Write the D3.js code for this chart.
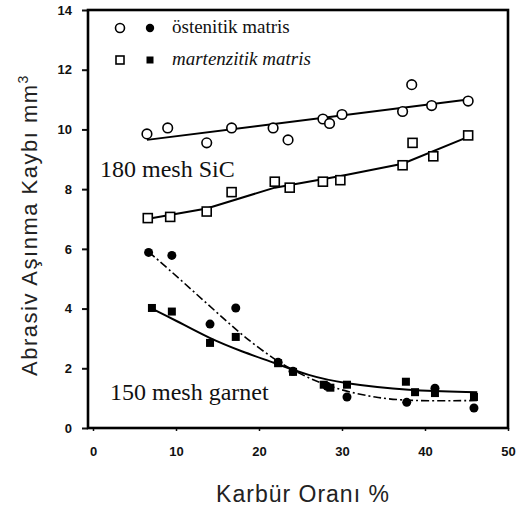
<!DOCTYPE html>
<html>
<head>
<meta charset="utf-8">
<script src="https://cdn.jsdelivr.net/npm/d3@7"></script>
<style>
  body { margin: 0; background: #fff; }
  svg { display: block; }
  .tick text { font-family: "Liberation Sans", Arial, sans-serif; font-weight: bold; font-size: 13px; fill: #111; }
  .serif { font-family: "Liberation Serif", "Times New Roman", serif; fill: #111; }
  .sans { font-family: "Liberation Sans", Arial, sans-serif; fill: #222; }
</style>
</head>
<body>
<svg id="chart" width="521" height="510"></svg>
<script>
// tick values
var xTicks = [0, 10, 20, 30, 40, 50];
var yTicks = [0, 2, 4, 6, 8, 10, 12, 14];

// 180 mesh SiC - ostenitik (open circles)
var sicAusX = [6.5, 9.0, 13.7, 16.7, 21.7, 23.5, 27.7, 28.5, 30.0, 37.3, 38.4, 40.8, 45.2];
var sicAusY = [9.85, 10.05, 9.55, 10.05, 10.05, 9.65, 10.35, 10.2, 10.5, 10.6, 11.5, 10.8, 10.95];
// 180 mesh SiC - martenzitik (open squares)
var sicMarX = [6.6, 9.3, 13.7, 16.7, 21.9, 23.7, 27.7, 29.8, 37.3, 38.5, 41.0, 45.2];
var sicMarY = [7.03, 7.07, 7.25, 7.9, 8.25, 8.05, 8.25, 8.3, 8.8, 9.55, 9.1, 9.8];

// 150 mesh garnet - ostenitik (filled circles)
var garAusX = [6.7, 9.5, 14.1, 17.2, 22.3, 24.1, 28.2, 30.6, 37.8, 41.2, 45.9];
var garAusY = [5.88, 5.78, 3.48, 4.02, 2.2, 1.9, 1.4, 1.04, 0.86, 1.33, 0.67];
// 150 mesh garnet - martenzitik (filled squares)
var garMarX = [7.1, 9.5, 14.1, 17.2, 22.3, 24.1, 27.8, 28.6, 30.6, 37.7, 38.8, 41.2, 45.9];
var garMarY = [4.02, 3.9, 2.85, 3.05, 2.17, 1.88, 1.45, 1.35, 1.45, 1.55, 1.2, 1.17, 1.04];

// fitted lines
var sicAusFitX = [6.5, 45.2];
var sicAusFitY = [9.65, 11.0];
var sicMarFitX = [6.5, 13.7, 21.9, 30.0, 37.3, 45.2];
var sicMarFitY = [7.0, 7.35, 8.05, 8.45, 8.85, 9.75];
var garAusFitX = [6.7, 9.0, 12.0, 15.0, 18.0, 22.0, 26.0, 30.0, 34.0, 38.0, 46.3];
var garAusFitY = [5.9, 5.35, 4.6, 3.85, 3.1, 2.25, 1.65, 1.25, 1.02, 0.9, 0.92];
var garMarFitX = [7.1, 10.0, 14.0, 18.0, 22.0, 26.0, 30.0, 38.0, 46.3];
var garMarFitY = [4.0, 3.6, 3.0, 2.55, 2.17, 1.75, 1.5, 1.25, 1.2];

var legendLabels = ["östenitik matris", "martenzitik matris"];

var svg = d3.select("#chart");
var plotLeft = 88, plotRight = 508, plotTop = 10, plotBottom = 428;

var x = d3.scaleLinear().domain([0, 50]).range([93, plotRight]);
var y = d3.scaleLinear().domain([0, 14]).range([plotBottom, plotTop]);

function zip(xs, ys) {
  return xs.map(function(d, i) { return [d, ys[i]]; });
}

// axes
var yAxis = d3.axisLeft(y).tickValues(yTicks).tickSize(6).tickPadding(10);
svg.append("g")
  .attr("transform", "translate(" + plotLeft + ",0)")
  .call(yAxis)
  .call(function(g) { g.select(".domain").remove(); })
  .selectAll("line").attr("stroke", "#111").attr("stroke-width", 2);

var xAxis = d3.axisBottom(x).tickValues(xTicks).tickSize(3).tickPadding(16);
svg.append("g")
  .attr("transform", "translate(0," + plotBottom + ")")
  .call(xAxis)
  .call(function(g) { g.select(".domain").remove(); })
  .selectAll("line").attr("stroke", "#111").attr("stroke-width", 1.5);

// frame
svg.append("rect")
  .attr("x", plotLeft).attr("y", plotTop)
  .attr("width", plotRight - plotLeft).attr("height", plotBottom - plotTop)
  .attr("fill", "none").attr("stroke", "#000").attr("stroke-width", 2.6);

// fit lines
var line = d3.line()
  .x(function(d) { return x(d[0]); })
  .y(function(d) { return y(d[1]); });
var curve = d3.line()
  .x(function(d) { return x(d[0]); })
  .y(function(d) { return y(d[1]); })
  .curve(d3.curveBasis);

svg.append("path").datum(zip(sicAusFitX, sicAusFitY))
  .attr("d", line).attr("fill", "none").attr("stroke", "#000").attr("stroke-width", 2);
svg.append("path").datum(zip(sicMarFitX, sicMarFitY))
  .attr("d", line).attr("fill", "none").attr("stroke", "#000").attr("stroke-width", 2);
svg.append("path").datum(zip(garAusFitX, garAusFitY))
  .attr("d", curve).attr("fill", "none").attr("stroke", "#000").attr("stroke-width", 1.6)
  .attr("stroke-dasharray", "8,3,2,3");
svg.append("path").datum(zip(garMarFitX, garMarFitY))
  .attr("d", curve).attr("fill", "none").attr("stroke", "#000").attr("stroke-width", 2);

// markers
svg.append("g").selectAll("circle").data(zip(sicAusX, sicAusY)).join("circle")
  .attr("cx", function(d) { return x(d[0]); })
  .attr("cy", function(d) { return y(d[1]); })
  .attr("r", 4.8).attr("fill", "#fff").attr("stroke", "#000").attr("stroke-width", 1.6);

svg.append("g").selectAll("rect").data(zip(sicMarX, sicMarY)).join("rect")
  .attr("x", function(d) { return x(d[0]) - 4.5; })
  .attr("y", function(d) { return y(d[1]) - 4.5; })
  .attr("width", 9).attr("height", 9)
  .attr("fill", "#fff").attr("stroke", "#000").attr("stroke-width", 1.6);

svg.append("g").selectAll("rect").data(zip(garMarX, garMarY)).join("rect")
  .attr("x", function(d) { return x(d[0]) - 4; })
  .attr("y", function(d) { return y(d[1]) - 4; })
  .attr("width", 8).attr("height", 8).attr("fill", "#000");

svg.append("g").selectAll("circle").data(zip(garAusX, garAusY)).join("circle")
  .attr("cx", function(d) { return x(d[0]); })
  .attr("cy", function(d) { return y(d[1]); })
  .attr("r", 4.5).attr("fill", "#000");

// legend
var legend = svg.append("g");
legendLabels.forEach(function(label, i) {
  var ly = 28 + i * 32;
  if (i === 0) {
    legend.append("circle").attr("cx", 120).attr("cy", ly).attr("r", 4.5)
      .attr("fill", "#fff").attr("stroke", "#000").attr("stroke-width", 1.6);
    legend.append("circle").attr("cx", 150).attr("cy", ly).attr("r", 4.2).attr("fill", "#000");
  } else {
    legend.append("rect").attr("x", 116).attr("y", ly - 4).attr("width", 8).attr("height", 8)
      .attr("fill", "#fff").attr("stroke", "#000").attr("stroke-width", 1.6);
    legend.append("rect").attr("x", 146.5).attr("y", ly - 3.5).attr("width", 7).attr("height", 7)
      .attr("fill", "#000");
  }
  legend.append("text").attr("class", "serif")
    .attr("x", 172).attr("y", ly + 5)
    .attr("font-size", 19).attr("font-style", i === 1 ? "italic" : "normal")
    .text(label);
});

// annotations
svg.append("text").attr("class", "serif")
  .attr("x", 100).attr("y", 177).attr("font-size", 24)
  .text("180 mesh SiC");
svg.append("text").attr("class", "serif")
  .attr("x", 110).attr("y", 400).attr("font-size", 24)
  .text("150 mesh garnet");

// axis titles
svg.append("text").attr("class", "sans")
  .attr("x", 303).attr("y", 502).attr("text-anchor", "middle")
  .attr("font-size", 23).attr("letter-spacing", 1)
  .text("Karbür Oranı %");

var yTitle = svg.append("text").attr("class", "sans")
  .attr("transform", "translate(37,225) rotate(-90)")
  .attr("text-anchor", "middle")
  .attr("font-size", 22).attr("letter-spacing", 1.5);
yTitle.append("tspan").text("Abrasiv  Aşınma  Kaybı  mm");
yTitle.append("tspan").attr("dy", -9).attr("font-size", 14).text("3");
</script>
</body>
</html>
